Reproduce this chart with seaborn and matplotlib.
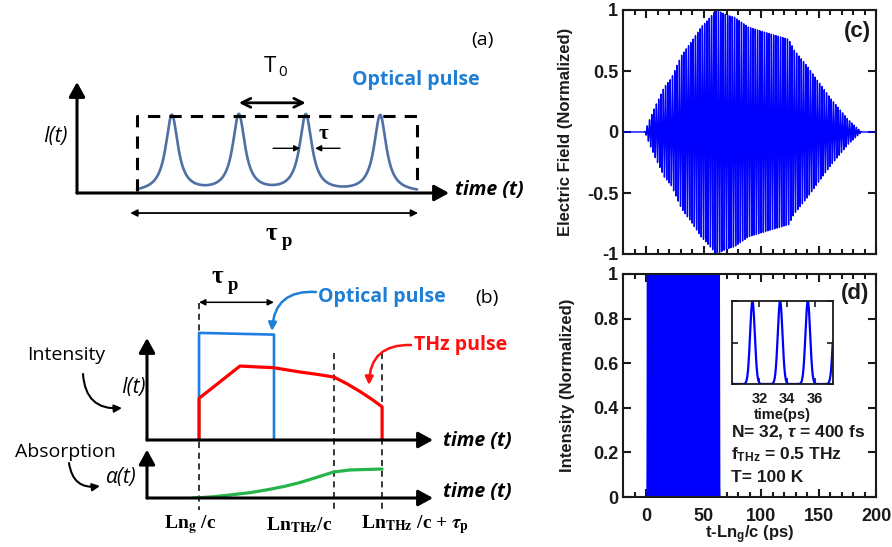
import numpy as np
import matplotlib
matplotlib.use('Agg')
import matplotlib.pyplot as plt
from matplotlib.patches import FancyArrowPatch
from matplotlib.ticker import MultipleLocator
import seaborn as sns

# (a) schematic: pulse train inside the tau_p window (arb. units)
a_window = [1.61, 9.14]
a_peaks = [2.55, 4.35, 6.15, 8.15]
a_halfwidth = 0.2

# (b) schematic (arb. units)
b_marks = [1.82, 6.54, 8.22]          # Ln_g/c, Ln_THz/c, Ln_THz/c + tau_p
opt_t = [1.82, 1.82, 4.44, 4.44]
opt_i = [0.0, 1.26, 1.24, 0.0]
thz_t = [1.82, 1.82, 3.25, 4.44, 5.35, 6.0, 6.54, 7.0, 7.45, 7.9, 8.22, 8.22]
thz_i = [0.0, 0.49, 0.87, 0.85, 0.80, 0.77, 0.74, 0.66, 0.57, 0.47, 0.39, 0.0]
abs_t = [1.6, 1.82, 2.4, 3.0, 3.6, 4.2, 4.8, 5.35, 5.95, 6.54, 7.1, 8.22]
abs_a = [0.0, 0.005, 0.03, 0.07, 0.11, 0.17, 0.24, 0.32, 0.43, 0.54, 0.58, 0.60]

# (c) THz field envelope
env_t = [-20, -1, 3, 7.5, 16, 22, 31, 39.5, 48, 54, 61, 70, 77, 89, 106, 124,
         129, 141, 147, 161, 176, 187.5, 200]
env_a = [0, 0, 0.1, 0.2, 0.37, 0.44, 0.63, 0.74, 0.86, 0.92, 1.0, 0.96, 0.94,
         0.86, 0.81, 0.76, 0.67, 0.53, 0.45, 0.27, 0.10, 0, 0]
f_thz = 0.5  # THz

# (d) optical pulse train, N = 32, tau = 400 fs
pulse_centers = [1.5, 3.5, 5.5, 7.5, 9.5, 11.5, 13.5, 15.5, 17.5, 19.5, 21.5,
                 23.5, 25.5, 27.5, 29.5, 31.5, 33.5, 35.5, 37.5, 39.5, 41.5,
                 43.5, 45.5, 47.5, 49.5, 51.5, 53.5, 55.5, 57.5, 59.5, 61.5, 63.5]
tau_fwhm = 0.4  # ps

sns.set_style('ticks')
DARK = '#1a1a1a'
plt.rcParams.update({
    'font.family': ['Liberation Sans', 'DejaVu Sans'],
    'font.weight': 'bold',
    'axes.labelweight': 'bold',
    'mathtext.fontset': 'custom',
    'mathtext.rm': 'Liberation Sans:bold',
    'mathtext.it': 'Liberation Sans:italic:bold',
    'mathtext.bf': 'Liberation Sans:bold',
    'mathtext.sf': 'Liberation Sans:bold',
    'text.color': DARK, 'axes.edgecolor': DARK, 'axes.labelcolor': DARK,
    'xtick.color': DARK, 'ytick.color': DARK,
})

W, H = 892, 547
fig = plt.figure(figsize=(W / 100, H / 100), dpi=100)
CAL = ['Open Sans', 'DejaVu Sans']
BLUE_T = '#1d7fd6'


def ftext(x, y, s, **kw):
    kw.setdefault('ha', 'center')
    kw.setdefault('va', 'center')
    kw.setdefault('color', 'black')
    fig.text(x / W, 1 - y / H, s, **kw)


def farrow(x0, y0, x1, y1, rad=0.0, color='black', lw=1.5, ms=12, style='-|>'):
    fig.add_artist(FancyArrowPatch((x0 / W, 1 - y0 / H), (x1 / W, 1 - y1 / H),
                                   transform=fig.transFigure,
                                   connectionstyle=f'arc3,rad={rad}',
                                   arrowstyle=style, mutation_scale=ms,
                                   lw=lw, color=color, shrinkA=0, shrinkB=0))


def axis_arrows(ax, xend, yend):
    kw = dict(arrowstyle='-|>,head_length=0.4,head_width=0.22', color='black',
              lw=2.2, mutation_scale=22, shrinkA=0, shrinkB=0)
    ax.annotate('', xy=(xend, 0), xytext=(0, 0), arrowprops=kw, annotation_clip=False)
    ax.annotate('', xy=(0, yend), xytext=(0, 0), arrowprops=kw, annotation_clip=False)


def tau_p(x, y, size):
    ftext(x, y, '\u03c4', fontsize=size, family='Liberation Serif', weight='bold')
    ftext(x + 0.9 * size, y + 0.45 * size, 'p', fontsize=0.75 * size,
          family='Liberation Serif', weight='bold')


# ---------------- (a)
ax_a = fig.add_axes([77 / W, 1 - 193 / H, 372 / W, 111 / H])
ax_a.set_xlim(0, 10)
ax_a.set_ylim(0, 1.44)
ax_a.axis('off')
ta = np.linspace(a_window[0], a_window[1], 800)
ia = sum(a_halfwidth ** 2 / ((ta - p) ** 2 + a_halfwidth ** 2) for p in a_peaks)
sns.lineplot(x=ta, y=ia, ax=ax_a, color='#4e70a3', lw=1.9, estimator=None, sort=False)
ax_a.plot([a_window[0], a_window[0], a_window[1], a_window[1]], [0.03, 1.0, 1.0, 0.06],
          color='black', lw=2.2, dashes=(4, 3), clip_on=False)
axis_arrows(ax_a, 10, 1.44)
ax_a.annotate('', xy=(a_peaks[2], 1.17), xytext=(a_peaks[1], 1.17),
              arrowprops=dict(arrowstyle='<->', lw=2, color='black', mutation_scale=16,
                              shrinkA=0, shrinkB=0), annotation_clip=False)
ax_a.annotate('', xy=(a_window[1] + 0.03, -0.26), xytext=(a_window[0] - 0.18, -0.26),
              arrowprops=dict(arrowstyle='<|-|>', lw=1.3, color='black', mutation_scale=10,
                              shrinkA=0, shrinkB=0), annotation_clip=False)
ax_a.annotate('', xy=(a_peaks[2] - 0.15, 0.58), xytext=(a_peaks[2] - 0.88, 0.58),
              arrowprops=dict(arrowstyle='-|>', lw=1, color='black', mutation_scale=9,
                              shrinkA=0, shrinkB=0), annotation_clip=False)
ax_a.annotate('', xy=(a_peaks[2] + 0.25, 0.58), xytext=(a_peaks[2] + 0.92, 0.58),
              arrowprops=dict(arrowstyle='-|>', lw=1, color='black', mutation_scale=9,
                              shrinkA=0, shrinkB=0), annotation_clip=False)

ftext(482, 40, '(a)', fontsize=14, family=CAL, weight='normal')
ftext(270, 66, 'T', fontsize=16, family=CAL, weight='normal')
ftext(283, 73, '0', fontsize=11, family=CAL, weight='normal')
ftext(352, 80, 'Optical pulse', fontsize=14, family=CAL, weight='bold', color=BLUE_T, ha='left')
ftext(55, 137, 'I(t)', fontsize=15, family=CAL, style='italic', weight='normal')
ftext(323, 134, '\u03c4', fontsize=15, family='Liberation Serif', weight='bold')
ftext(455, 190, 'time (t)', fontsize=14, family=CAL, style='italic', weight='bold', ha='left')
tau_p(271, 233, 18)

# ---------------- (b)
ax_b = fig.add_axes([147 / W, 1 - 440 / H, 286 / W, 120 / H])
ax_b.set_xlim(0, 10)
ax_b.set_ylim(0, 120 / 85)
ax_b.axis('off')
for k, m in enumerate(b_marks):
    ax_b.plot([m, m], [1.61 if k == 0 else 1.02, -0.82], color='black', lw=1.1,
              dashes=(4, 3), clip_on=False)
sns.lineplot(x=opt_t, y=opt_i, ax=ax_b, color='#1f7fe0', lw=1.9, estimator=None, sort=False)
sns.lineplot(x=thz_t, y=thz_i, ax=ax_b, color='#ff0000', lw=2.3, estimator=None, sort=False)
for ln in ax_b.lines:
    ln.set_clip_on(False)
axis_arrows(ax_b, 10, 1.2)
ax_b.annotate('', xy=(opt_t[2], 1.62), xytext=(opt_t[0], 1.62),
              arrowprops=dict(arrowstyle='<|-|>', lw=1.1, color='black', mutation_scale=9,
                              shrinkA=0, shrinkB=0), annotation_clip=False)

ax_b2 = fig.add_axes([147 / W, 1 - 498 / H, 286 / W, 58 / H])
ax_b2.set_xlim(0, 10)
ax_b2.set_ylim(0, 1.2)
ax_b2.axis('off')
sns.lineplot(x=abs_t, y=abs_a, ax=ax_b2, color='#26b54a', lw=2.3, estimator=None, sort=False)
axis_arrows(ax_b2, 10, 1.0)

tau_p(217, 277, 18)
ftext(318, 297, 'Optical pulse', fontsize=14, family=CAL, weight='bold', color=BLUE_T, ha='left')
farrow(316, 292, 272, 331, rad=0.5, color=BLUE_T, lw=1.8, ms=12)
ftext(487, 298, '(b)', fontsize=14, family=CAL, weight='normal')
ftext(414, 345, 'THz pulse', fontsize=14, family=CAL, weight='bold', color='#ff1010', ha='left')
farrow(411, 345, 369, 385, rad=0.5, color='#ff1010', lw=1.8, ms=12)
ftext(66, 355, 'Intensity', fontsize=14, family=CAL, weight='normal')
farrow(83, 374, 122, 408, rad=0.5, lw=1.5, ms=11)
ftext(133, 388, 'I(t)', fontsize=15, family=CAL, style='italic', weight='normal')
ftext(443, 441, 'time (t)', fontsize=14, family=CAL, style='italic', weight='bold', ha='left')
ftext(65, 452, 'Absorption', fontsize=14, family=CAL, weight='normal')
farrow(69, 463, 100, 486, rad=0.5, lw=1.5, ms=11)
ftext(121, 477, '\u03b1(t)', fontsize=15, family=CAL, style='italic', weight='normal')
ftext(443, 492, 'time (t)', fontsize=14, family=CAL, style='italic', weight='bold', ha='left')

SER = dict(fontsize=14, family='Liberation Serif', weight='bold', math_fontfamily='stix')
ftext(190, 525, r'Ln$_{\mathbf{g}}$ /c', **SER)
ftext(299, 525, r'Ln$_{\mathbf{THz}}$/c', **SER)
ftext(361, 525, r'Ln$_{\mathbf{THz}}$ /c + $\tau_{\mathbf{p}}$', ha='left', **SER)

# ---------------- (c)
t_c = np.arange(-20, 200.0001, 0.02)
field = np.interp(t_c, env_t, env_a) * np.cos(2 * np.pi * f_thz * (t_c - 61))
t_d = np.arange(-20, 200.0001, 0.01)
sig = tau_fwhm / 2.3548
inten = sum(np.exp(-0.5 * ((t_d - c) / sig) ** 2) for c in pulse_centers)


def style_axes(ax):
    ax.tick_params(which='both', direction='in', top=True, right=True, width=1.5,
                   labelsize=13)
    ax.tick_params(which='major', length=6)
    ax.tick_params(which='minor', length=3.5)
    ax.tick_params(axis='x', pad=8)
    for s in ax.spines.values():
        s.set_linewidth(1.5)


ax_c = fig.add_axes([623 / W, 1 - 254 / H, 253 / W, 244 / H])
sns.lineplot(x=t_c, y=field, ax=ax_c, color='#0000ff', lw=1.0, estimator=None, sort=False)
ax_c.set_xlim(-20, 200)
ax_c.set_ylim(-1, 1)
ax_c.set_xticks([0, 50, 100, 150, 200])
ax_c.xaxis.set_minor_locator(MultipleLocator(10))
ax_c.set_yticks([-1, -0.5, 0, 0.5, 1])
ax_c.set_yticklabels(['-1', '-0.5', '0', '0.5', '1'], fontweight='bold')
style_axes(ax_c)
ax_c.tick_params(labelbottom=False)
ax_c.set_ylabel('Electric Field (Normalized)', fontsize=12)
ax_c.yaxis.set_label_coords(-0.198, 0.5)
ftext(857, 32, '(c)', fontsize=16, weight='bold', color=DARK)

# ---------------- (d)
ax_d = fig.add_axes([623 / W, 1 - 497 / H, 253 / W, 223 / H])
sns.lineplot(x=t_d, y=inten, ax=ax_d, color='#0000ff', lw=1.3, estimator=None, sort=False)
ax_d.lines[0].set_clip_on(False)
ax_d.set_xlim(-20, 200)
ax_d.set_ylim(0, 1)
ax_d.set_xticks([0, 50, 100, 150, 200])
ax_d.set_xticklabels(['0', '50', '100', '150', '200'], fontweight='bold')
ax_d.xaxis.set_minor_locator(MultipleLocator(10))
ax_d.set_yticks([0, 0.2, 0.4, 0.6, 0.8, 1])
ax_d.set_yticklabels(['0', '0.2', '0.4', '0.6', '0.8', '1'], fontweight='bold')
style_axes(ax_d)
ax_d.set_ylabel('Intensity (Normalized)', fontsize=12)
ax_d.yaxis.set_label_coords(-0.19, 0.5)
ax_d.set_xlabel(r't-Ln$_{\mathrm{g}}$/c (ps)', fontsize=12, labelpad=-1)
ftext(855, 293, '(d)', fontsize=16, weight='bold', color=DARK)

ftext(731, 432, r'N= 32, $\tau$ = 400 fs', fontsize=12.5, weight='bold', color=DARK, ha='left')
ftext(731, 455, r'f$_{\mathrm{THz}}$ = 0.5 THz', fontsize=12.5, weight='bold', color=DARK, ha='left')
ftext(731, 478, 'T= 100 K', fontsize=12.5, weight='bold', color=DARK, ha='left')

ax_in = fig.add_axes([731.7 / W, 1 - 384 / H, 101 / W, 83 / H])
sns.lineplot(x=t_d, y=inten, ax=ax_in, color='#0000ff', lw=1.6, estimator=None, sort=False)
ax_in.set_xlim(30, 37.3)
ax_in.set_ylim(0, 1)
ax_in.set_xticks([32, 34, 36])
ax_in.set_xticklabels(['32', '34', '36'], fontweight='bold')
ax_in.set_yticks([0, 0.5, 1])
ax_in.set_yticklabels([])
ax_in.tick_params(which='both', direction='in', top=True, right=True, width=1.2,
                  length=4, labelsize=10.5, pad=6)
for s in ax_in.spines.values():
    s.set_linewidth(1.3)
ax_in.set_xlabel('time(ps)', fontsize=10.5, labelpad=1)
ax_in.set_ylabel('')

fig.savefig('out.png', dpi=100)
